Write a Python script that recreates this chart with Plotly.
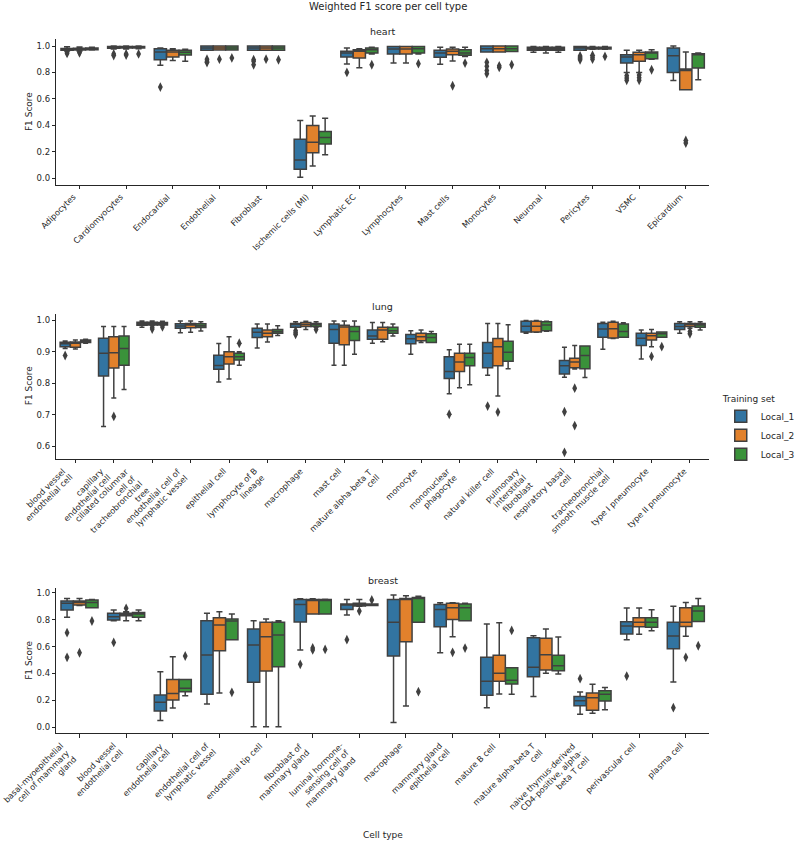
import math
import textwrap
import plotly.graph_objects as go

SERIES = ["Local_1", "Local_2", "Local_3"]
COLORS = ["#3274a1", "#e1812c", "#3a923a"]

# ---------------- heart ----------------
HEART_CATS = ["Adipocytes", "Cardiomyocytes", "Endocardial", "Endothelial", "Fibroblast",
              "Ischemic cells (MI)", "Lymphatic EC", "Lymphocytes", "Mast cells", "Monocytes",
              "Neuronal", "Pericytes", "VSMC", "Epicardium"]
# (lower whisker, q1, median, q3, upper whisker)
HEART_L1 = [(.962, .968, .975, .982, .995), (.978, .983, .99, .997, 1.0), (.855, .896, .955, .98, .985),
            (.967, .967, .985, 1.0, 1.0), (.967, .967, .985, 1.0, 1.0), (.005, .066, .137, .294, .435),
            (.863, .916, .947, .96, .985), (.871, .939, .977, .997, .997), (.861, .914, .947, .967, .99),
            (.954, .954, .98, 1.0, 1.0), (.952, .967, .98, .99, .997), (.967, .967, .985, .997, .997),
            (.8, .871, .916, .934, .967), (.739, .8, .927, .985, 1.0)]
HEART_L2 = [(.962, .97, .977, .983, .993), (.978, .984, .99, .997, 1.0), (.89, .916, .955, .967, .98),
            (.97, .97, .985, 1.0, 1.0), (.967, .967, .985, 1.0, 1.0), (.091, .192, .271, .397, .47),
            (.835, .909, .96, .972, .98), (.871, .939, .977, .997, .997), (.886, .934, .96, .977, .99),
            (.954, .954, .98, 1.0, 1.0), (.947, .967, .98, .99, .997), (.975, .978, .985, .99, .997),
            (.8, .884, .934, .952, .967), (.668, .668, .815, .825, .954)]
HEART_L3 = [(.97, .972, .977, .984, .99), (.98, .985, .99, .997, 1.0), (.885, .932, .952, .967, .975),
            (.97, .97, .985, 1.0, 1.0), (.967, .967, .985, 1.0, 1.0), (.177, .258, .306, .352, .453),
            (.94, .947, .972, .985, .99), (.94, .947, .98, .997, .997), (.92, .929, .947, .972, .99),
            (.958, .958, .98, 1.0, 1.0), (.952, .967, .98, .99, .997), (.975, .978, .985, .99, .997),
            (.9, .904, .947, .954, .972), (.744, .833, .94, .942, .947)]
HEART_O1 = [[.952, .944], [.94, .928], [.689], [.9, .885, .875], [.896, .884, .858], [], [.8], [], [],
            [.876, .846, .815, .79], [], [.925, .915, .905, .895], [.775, .757, .74], []]
HEART_O2 = [[.955, .948], [.94, .932], [], [.9], [.9], [], [], [], [.699], [.85, .838], [],
            [.93, .915, .9], [.78, .76, .74], [.284, .265]]
HEART_O3 = [[], [.94], [], [.91], [.896], [], [.858], [.866], [.871], [.858], [], [.921], [.82], []]

# ---------------- lung ----------------
LUNG_CATS = ["blood vessel endothelial cell", "capillary endothelial cell",
             "ciliated columnar cell of tracheobronchial tree", "endothelial cell of lymphatic vessel",
             "epithelial cell", "lymphocyte of B lineage", "macrophage", "mast cell",
             "mature alpha-beta T cell", "monocyte", "mononuclear phagocyte", "natural killer cell",
             "pulmonary interstitial fibroblast", "respiratory basal cell",
             "tracheobronchial smooth muscle cell", "type I pneumocyte", "type II pneumocyte"]
LUNG_L1 = [(.91, .916, .925, .93, .934), (.662, .823, .895, .943, .98), (.978, .984, .989, .994, .998),
           (.96, .975, .982, .989, .998), (.804, .844, .856, .889, .926), (.912, .945, .962, .975, .988),
           (.978, .978, .987, .99, .995), (.857, .927, .971, .988, .998), (.927, .94, .95, .969, .993),
           (.892, .925, .941, .955, .967), (.766, .815, .837, .884, .906), (.825, .849, .895, .929, .99),
           (.959, .963, .981, .997, .999), (.819, .829, .855, .872, .914), (.908, .946, .972, .99, .994),
           (.877, .92, .943, .959, .969), (.959, .971, .98, .99, .995)]
LUNG_L2 = [(.909, .914, .927, .931, .937), (.753, .848, .897, .948, .98), (.984, .985, .99, .994, .998),
           (.962, .976, .985, .99, .998), (.813, .861, .884, .9, .948), (.931, .948, .959, .969, .988),
           (.971, .98, .987, .993, .997), (.857, .922, .979, .984, .998), (.932, .94, .969, .978, .993),
           (.929, .935, .948, .959, .969), (.785, .837, .867, .895, .924), (.759, .855, .916, .942, .99),
           (.962, .963, .981, .997, .999), (.845, .849, .867, .879, .92), (.942, .944, .973, .994, .997),
           (.916, .937, .951, .959, .971), (.975, .98, .987, .99, .995)]
LUNG_L3 = [(.927, .929, .934, .937, .94), (.78, .857, .91, .95, .98), (.984, .985, .99, .993, .997),
           (.966, .977, .983, .989, .995), (.857, .874, .884, .895, .9), (.952, .959, .964, .971, .983),
           (.978, .98, .987, .99, .995), (.892, .936, .964, .98, .998), (.95, .959, .967, .978, .988),
           (.929, .929, .945, .957, .964), (.795, .855, .882, .895, .924), (.846, .87, .898, .933, .986),
           (.965, .967, .985, .995, .997), (.818, .846, .888, .918, .918), (.946, .946, .964, .988, .992),
           (.946, .946, .957, .963, .963), (.969, .978, .985, .99, .995)]
LUNG_O1 = [[.888], [], [], [], [], [], [.967, .96, .955], [], [], [], [.701], [.727], [], [.709, .58],
           [], [], []]
LUNG_O2 = [[], [.694], [.978, .972], [], [], [], [], [], [], [], [], [.708], [], [.784, .665], [],
           [.885], [.964, .957]]
LUNG_O3 = [[], [], [.979], [], [.927], [], [.971], [], [], [], [], [], [], [], [], [.916], []]

# ---------------- breast ----------------
BREAST_CATS = ["basal-myoepithelial cell of mammary gland", "blood vessel endothelial cell",
               "capillary endothelial cell", "endothelial cell of lymphatic vessel",
               "endothelial tip cell", "fibroblast of mammary gland",
               "luminal hormone-sensing cell of mammary gland", "macrophage",
               "mammary gland epithelial cell", "mature B cell", "mature alpha-beta T cell",
               "naive thymus-derived CD4-positive, alpha-beta T cell", "perivascular cell", "plasma cell"]
BREAST_L1 = [(.817, .871, .921, .938, .958), (.792, .797, .822, .847, .871), (.05, .121, .186, .24, .413),
             (.173, .245, .537, .792, .847), (.005, .334, .611, .73, .792), (.574, .782, .913, .95, .955),
             (.834, .876, .908, .916, .95), (.035, .53, .78, .95, .983), (.554, .748, .876, .913, .926),
             (.146, .238, .342, .52, .767), (.228, .376, .446, .666, .681), (.097, .161, .198, .228, .262),
             (.651, .693, .752, .785, .886), (.337, .584, .678, .78, .899)]
BREAST_L2 = [(.905, .908, .928, .938, .958), (.792, .829, .839, .847, .859), (.144, .203, .252, .356, .525),
             (.255, .569, .76, .814, .859), (.005, .418, .673, .78, .804), (.842, .842, .945, .95, .955),
             (.9, .901, .913, .921, .95), (.158, .636, .955, .958, .978), (.673, .802, .889, .921, .926),
             (.248, .342, .401, .535, .777), (.401, .426, .54, .661, .73), (.104, .126, .22, .255, .319),
             (.691, .748, .78, .814, .886), (.676, .75, .78, .889, .928)]
BREAST_L3 = [(.889, .889, .928, .946, .95), (.792, .817, .842, .854, .871), (.235, .265, .29, .356, .356),
             (.651, .651, .79, .804, .842), (.005, .45, .686, .78, .792), (.842, .842, .946, .95, .952),
             (.905, .906, .911, .916, .916), (.78, .78, .965, .965, .973), (.792, .792, .889, .916, .921),
             (.245, .322, .349, .443, .443), (.396, .421, .458, .535, .671), (.131, .196, .245, .272, .295),
             (.718, .743, .78, .814, .874), (.787, .787, .864, .901, .958)]
BREAST_O1 = [[.703, .52], [.631], [], [], [], [.468], [.651], [], [], [], [], [.361], [.381], [.146]]
BREAST_O2 = [[.554], [.884], [], [], [], [.59, .575], [.864], [], [.557], [], [], [], [], [.52]]
BREAST_O3 = [[.79], [], [.53], [.26], [], [.579], [.946], [.265], [.589], [.72], [], [], [], [.606]]

PANELS = [
    dict(name="heart", cats=HEART_CATS, stats=[HEART_L1, HEART_L2, HEART_L3],
         outs=[HEART_O1, HEART_O2, HEART_O3], yrange=[-0.05, 1.05],
         yticks=[0, 0.2, 0.4, 0.6, 0.8, 1.0], top=39.4, bottom=184.6, title_y=31),
    dict(name="lung", cats=LUNG_CATS, stats=[LUNG_L1, LUNG_L2, LUNG_L3],
         outs=[LUNG_O1, LUNG_O2, LUNG_O3], yrange=[0.5596, 1.021],
         yticks=[0.6, 0.7, 0.8, 0.9, 1.0], top=313.7, bottom=458.7, title_y=306),
    dict(name="breast", cats=BREAST_CATS, stats=[BREAST_L1, BREAST_L2, BREAST_L3],
         outs=[BREAST_O1, BREAST_O2, BREAST_O3], yrange=[-0.0446, 1.033],
         yticks=[0, 0.2, 0.4, 0.6, 0.8, 1.0], top=588.3, bottom=733.3, title_y=580.5),
]

W, H = 800, 842
X0, X1 = 58, 732
LINE = "#404040"
TXT = "#262626"
FONT = "DejaVu Sans"
GROUP_W = 0.8
BOX_W = GROUP_W / 3
LABEL_PAD = 6        # px between axis line and top of rotated tick labels
LABEL_SIZE = 8.2
LINE_STEP = 1.15 * LABEL_SIZE * math.sqrt(0.5)   # diagonal offset between wrapped lines

fig = go.Figure()
annotations = []
layout_axes = {}

for p_i, p in enumerate(PANELS):
    suffix = "" if p_i == 0 else str(p_i + 1)
    xref, yref = "x" + suffix, "y" + suffix
    n = len(p["cats"])
    for s_i, series in enumerate(SERIES):
        off = (s_i - 1) * BOX_W
        xs = [i + off for i in range(n)]
        st = p["stats"][s_i]
        fig.add_trace(go.Box(
            x=xs,
            lowerfence=[v[0] for v in st], q1=[v[1] for v in st], median=[v[2] for v in st],
            q3=[v[3] for v in st], upperfence=[v[4] for v in st],
            width=BOX_W * 0.98, whiskerwidth=0.5, boxpoints=False,
            fillcolor=COLORS[s_i], line=dict(color=LINE, width=1.5),
            name=series, legendgroup=series, showlegend=(p_i == 0),
            xaxis=xref, yaxis=yref,
        ))
        ox, oy = [], []
        for i, vals in enumerate(p["outs"][s_i]):
            for v in vals:
                ox.append(i + off)
                oy.append(v)
        fig.add_trace(go.Scatter(
            x=ox, y=oy, mode="markers",
            marker=dict(symbol="diamond-tall", size=7, color=LINE, line=dict(width=0)),
            showlegend=False, legendgroup=series, xaxis=xref, yaxis=yref, hoverinfo="y",
        ))
    ydom = [1 - p["bottom"] / H, 1 - p["top"] / H]
    layout_axes["xaxis" + suffix] = dict(
        domain=[X0 / W, X1 / W], anchor=yref, range=[-0.5, n - 0.5],
        tickvals=list(range(n)), showticklabels=False,
        ticks="outside", ticklen=3.5, tickwidth=0.8, tickcolor=TXT,
        showline=True, linecolor=TXT, linewidth=0.8, showgrid=False, zeroline=False,
    )
    layout_axes["yaxis" + suffix] = dict(
        domain=ydom, anchor=xref, range=p["yrange"], tickvals=p["yticks"], tickformat=".1f",
        ticks="outside", ticklen=3.5, tickwidth=0.8, tickcolor=TXT,
        showline=True, linecolor=TXT, linewidth=0.8, showgrid=False, zeroline=False,
        tickfont=dict(family=FONT, size=8.5, color=TXT),
    )
    # rotated, wrapped category labels, aligned like matplotlib ha='right' rotation=45
    y_top = 1 - (p["bottom"] + LABEL_PAD) / H
    for i, c in enumerate(p["cats"]):
        lines = textwrap.wrap(c, 20)
        m = len(lines)
        for j, ln in enumerate(lines):
            annotations.append(dict(
                text=ln, x=i, xref=xref, y=y_top, yref="paper",
                xshift=-(m - 1 - j) * LINE_STEP, yshift=-j * LINE_STEP,
                textangle=-45, xanchor="right", yanchor="top",
                showarrow=False, borderpad=0,
                font=dict(family=FONT, size=LABEL_SIZE, color=TXT)))
    annotations.append(dict(text=p["name"], x=(X0 + X1) / 2 / W, y=1 - p["title_y"] / H,
                            xref="paper", yref="paper", showarrow=False,
                            xanchor="center", yanchor="middle",
                            font=dict(family=FONT, size=9.5, color=TXT)))
    annotations.append(dict(text="F1 Score", x=30 / W, y=(ydom[0] + ydom[1]) / 2,
                            xref="paper", yref="paper", showarrow=False, textangle=-90,
                            xanchor="center", yanchor="middle",
                            font=dict(family=FONT, size=9, color=TXT)))

annotations.append(dict(text="Weighted F1 score per cell type", x=0.5, y=1 - 6 / H,
                        xref="paper", yref="paper", showarrow=False,
                        xanchor="center", yanchor="middle",
                        font=dict(family=FONT, size=10, color=TXT)))
annotations.append(dict(text="Cell type", x=(X0 + X1) / 2 / W, y=1 - 835 / H,
                        xref="paper", yref="paper", showarrow=False,
                        xanchor="center", yanchor="middle",
                        font=dict(family=FONT, size=9, color=TXT)))

fig.update_layout(
    width=W, height=H, autosize=False,
    margin=dict(l=0, r=0, t=0, b=0),
    paper_bgcolor="white", plot_bgcolor="white",
    boxmode="overlay",
    font=dict(family=FONT, size=9, color=TXT),
    legend=dict(title=dict(text="Training set", font=dict(family=FONT, size=9, color=TXT)),
                x=0.93, y=1 - 390 / H, xanchor="left", yanchor="top",
                font=dict(family=FONT, size=9, color=TXT), bgcolor="rgba(0,0,0,0)",
                itemwidth=30, tracegroupgap=0),
    annotations=annotations,
    **layout_axes,
)

fig.write_html("out.html")
